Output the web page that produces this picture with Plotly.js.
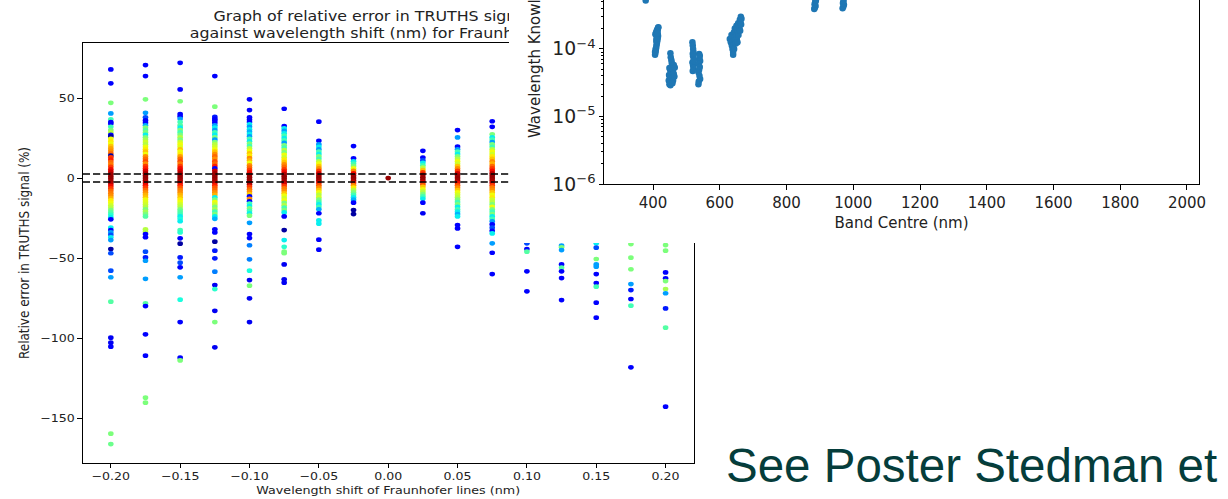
<!DOCTYPE html>
<html>
<head>
<meta charset="utf-8">
<script src="https://cdn.plot.ly/plotly-3.0.1.min.js"></script>
<style>
  html, body { margin: 0; padding: 0; background: #ffffff; overflow: hidden; width: 1228px; height: 499px; }
  /* the left figure in the reference is horizontally stretched by ~1.2 */
  #left { position: absolute; left: 0; top: 0; width: 1024px; height: 499px; transform: scaleX(1.2); transform-origin: 0 0; z-index: 0; }
  #caption { position: absolute; left: 0; top: 0; width: 1228px; height: 499px; z-index: 1; pointer-events: none; }
  #right { position: absolute; left: 509px; top: 0; width: 719px; height: 243px; z-index: 2; }
</style>
</head>
<body>
<div id="left"></div>
<div id="caption"></div>
<div id="right"></div>
<script>
// ---------- Left chart data: relative error (%) per wavelength shift, [value, colour 0..1 on jet] ----------
const shiftValues = [-0.2, -0.175, -0.15, -0.125, -0.1, -0.075, -0.05, -0.025, 0, 0.025, 0.05, 0.075, 0.1, 0.125, 0.15, 0.175, 0.2];

const err_m0200 = [[67.9,.12],[59.2,.12],[47,.5],[40.4,.28],[36.7,.43],[35,.12],
  [34,.12],[32,.43],[30,.5],[28.5,.57],[27,.12],[26,.03],[24.5,.64],[23,.66],[21.5,.64],[20,.7],[18.5,.74],[17,.76],[15.5,.8],[14,.03],[13,.85],[11.5,.88],[10,.8],[8.5,.78],[7,.85],[5.5,.9],[4,.93],[2.5,.97],[1,.98],[-0.5,.98],[-2,.97],[-3.5,.95],[-5,.9],[-6.5,.85],[-8,.8],[-9.5,.78],[-11,.76],[-12.5,.72],[-14,.66],[-15.5,.64],[-17,.6],[-18.5,.57],[-20,.5],[-21.5,.45],[-23,.4],[-24.5,.36],[-25.8,.12],[-31,.36],[-32.5,.12],[-34,.28],[-35.5,.2],[-37,.36],[-38.8,.28],
  [-44.4,.03],[-47,.2],[-57.9,.2],[-62,.28],[-77.3,.45],[-99.8,.1],[-102.9,.1],[-105.4,.12],[-159.8,.5],[-166.3,.48]];
const err_m0175 = [[70.6,.12],[63.75,.12],[49.2,.5],[40.8,.28],[38,.2],[36,.12],[34.5,.12],[33,.3],[31.5,.5],[30,.45],[28.5,.5],[27,.36],[25.5,.5],[24,.55],[22.5,.6],[21,.57],[19.5,.64],[18,.66],[16.5,.7],[15,.64],[13.5,.76],[12,.8],[10.5,.83],[9,.76],[7.5,.85],[6,.88],[4.5,.92],[3,.96],[1.5,.98],[0,.98],[-1.5,.97],[-3,.95],[-4.5,.9],[-6,.85],[-7.5,.8],[-9,.76],[-10.5,.72],[-12,.7],[-13.5,.64],[-15,.62],[-16.5,.6],[-18,.57],[-19.5,.5],[-21,.55],[-22.5,.5],[-24,.45],[-32,.57],[-33.5,.57],[-35,.12],[-37,.12],
  [-46,.2],[-49.6,.15],[-51.7,.28],[-63,.28],[-78.3,.45],[-80,.12],[-97.7,.12],[-111,.12],[-137.3,.5],[-140.4,.5]];
const err_m0150 = [[72,.12],[55.4,.12],[48,.5],[40,.12],[38.5,.12],[37,.28],[35,.43],[33,.45],[31.5,.36],[30,.5],[28.5,.43],[27,.5],[25.5,.57],[24,.5],[22.5,.6],[21,.64],[19.5,.62],[18,.7],[16.5,.64],[15,.66],[13.5,.74],[12,.8],[10.5,.83],[9,.78],[7.5,.85],[6,.9],[4.5,.92],[3,.96],[1.5,.98],[0,.98],[-1.5,.97],[-3,.93],[-4.5,.88],[-6,.82],[-7.5,.78],[-9,.76],[-10.5,.72],[-12,.7],[-13.5,.66],[-15,.64],[-16.5,.6],[-18,.57],[-19.5,.5],[-21,.45],[-22.5,.43],[-24,.36],[-25.5,.38],[-27,.36],[-32.5,.43],[-34,.4],[-37.7,.12],[-41,.03],
  [-49.6,.15],[-52.9,.2],[-55.8,.12],[-62,.28],[-76,.38],[-90,.12],[-112.3,.12],[-114,.5]];
const err_m0125 = [[63.75,.12],[44.6,.5],[38.3,.15],[37,.12],[36,.12],[34.5,.12],[33,.28],[31.5,.36],[30,.28],[28.5,.43],[27,.36],[25.5,.5],[24,.28],[22.5,.5],[21,.57],[19.5,.6],[18,.64],[16.5,.7],[15,.76],[13.5,.8],[12,.76],[10.5,.83],[9,.8],[7.5,.88],[6,.12],[4.5,.94],[3,.97],[1.5,.98],[0,.98],[-1.5,.97],[-3,.95],[-4.5,.88],[-6,.82],[-7.5,.8],[-9,.76],[-10.5,.72],[-12,.36],[-13.5,.5],[-15,.64],[-16.5,.6],[-18,.5],[-19.5,.55],[-21,.43],[-22.5,.5],[-24,.36],[-25.5,.3],[-32,.12],[-34,.12],[-39.8,.03],
  [-45.4,.15],[-50.2,.15],[-58.5,.25],[-66.9,.1],[-69.4,.4],[-83,.1],[-90,.5],[-105.8,.1]];
const err_m0100 = [[49.2,.12],[42.5,.12],[38,.12],[36.5,.12],[35,.12],[33.5,.36],[32,.28],[30.5,.36],[29,.3],[27.5,.36],[26,.28],[24.5,.43],[23,.36],[21.5,.5],[20,.43],[18.5,.57],[17,.64],[15.5,.7],[14,.66],[12.5,.76],[11,.72],[9.5,.64],[8,.76],[6.5,.8],[5,.85],[3.5,.9],[2,.96],[0.5,.98],[-1,.98],[-2.5,.97],[-4,.95],[-5.5,.85],[-7,.8],[-8.5,.76],[-10,.7],[-11.5,.12],[-13,.76],[-14.5,.12],[-16,.43],[-17.5,.36],[-19,.5],[-20.5,.43],[-22,.36],[-23.5,.5],[-28,.28],[-35,.12],[-37.5,.12],[-42,.25],
  [-50.8,.25],[-57.9,.38],[-63.75,.1],[-67.3,.5],[-75.2,.1],[-90,.1]];
const err_m0075 = [[43.3,.12],[32.5,.12],[31,.36],[29.5,.28],[28,.36],[26.5,.43],[25,.36],[23.5,.43],[22,.28],[20.5,.5],[19,.43],[17.5,.57],[16,.5],[14.5,.64],[13,.6],[11.5,.66],[10,.7],[8.5,.76],[7,.8],[5.5,.85],[4,.9],[2.5,.95],[1,.98],[-0.5,.98],[-2,.97],[-3.5,.93],[-5,.85],[-6.5,.78],[-8,.76],[-9.5,.7],[-11,.64],[-12.5,.6],[-14,.64],[-15.5,.5],[-17,.57],[-18.5,.43],[-20,.5],[-21.5,.36],[-24,.12],[-32.5,.03],[-38.75,.36],[-43,.4],[-46,.5],[-47,.5],[-54,.1],[-63.3,.1],[-65.4,.1]];
const err_m0050 = [[35.2,.12],[23.3,.12],[21,.28],[19.5,.36],[18,.28],[16.5,.43],[15,.36],[13.5,.5],[12,.43],[10.5,.57],[9,.64],[7.5,.7],[6,.76],[4.5,.85],[3,.93],[1.5,.97],[0,.98],[-1.5,.97],[-3,.9],[-4.5,.82],[-6,.76],[-7.5,.7],[-9,.64],[-10.5,.57],[-12,.6],[-13.5,.5],[-15,.43],[-16.5,.36],[-18,.43],[-19.5,.3],[-22,.12],[-26.5,.36],[-28.5,.36],[-38.5,.12],[-44.8,.12]];
const err_m0025 = [[20,.12],[12.3,.12],[10.5,.36],[9,.43],[7.5,.5],[6,.64],[4.5,.76],[3,.9],[1.5,.97],[0,.98],[-1.5,.97],[-3,.88],[-4.5,.76],[-6,.66],[-7.5,.57],[-9,.5],[-10.5,.43],[-12,.36],[-13.5,.3],[-15.4,.12],[-20,.03],[-22.5,.03]];
const err_0000 = [[0,.98]];
const err_p0025 = [[17,.12],[12.8,.12],[11,.2],[9.5,.36],[8,.43],[6.5,.57],[5,.7],[3.5,.85],[2,.95],[0.5,.98],[-1,.98],[-2.5,.93],[-4,.82],[-5.5,.7],[-7,.64],[-8.5,.57],[-10,.5],[-11.5,.43],[-13,.36],[-15.4,.12],[-22,.1]];
const err_p0050 = [[30,.12],[25.4,.28],[19.6,.12],[18,.28],[16.5,.43],[15,.36],[13.5,.5],[12,.57],[10.5,.64],[9,.6],[7.5,.7],[6,.76],[4.5,.85],[3,.93],[1.5,.97],[0,.98],[-1.5,.97],[-3,.9],[-4.5,.82],[-6,.76],[-7.5,.7],[-9,.64],[-10.5,.6],[-12,.57],[-13.5,.5],[-15,.43],[-16.5,.5],[-18,.36],[-19.5,.43],[-21,.36],[-22.5,.3],[-24,.36],[-29.4,.12],[-31.5,.12],[-43,.12]];
const err_p0075 = [[35.5,.12],[32,.12],[27.3,.5],[25.5,.36],[24,.43],[22.5,.28],[21,.5],[19.5,.43],[18,.57],[16.5,.64],[15,.6],[13.5,.66],[12,.7],[10.5,.76],[9,.72],[7.5,.8],[6,.85],[4.5,.9],[3,.95],[1.5,.98],[0,.98],[-1.5,.97],[-3,.93],[-4.5,.85],[-6,.78],[-7.5,.76],[-9,.7],[-10.5,.64],[-12,.66],[-13.5,.6],[-15,.57],[-16.5,.5],[-18,.64],[-19.5,.5],[-21,.43],[-22.5,.5],[-24,.36],[-25.5,.43],[-27,.28],[-29,.12],[-31,.2],[-33,.12],[-34.6,.36],[-40.8,.28],[-46.7,.12],[-60,.12]];
const err_p0100 = [[-40.8,.2],[-44.4,.12],[-46,.45],[-58.3,.12],[-70.8,.12]];
const err_p0125 = [[-42.3,.28],[-43.3,.5],[-45,.28],[-54,.12],[-56,.45],[-58.3,.12],[-62.5,.12],[-76.25,.12]];
const err_p0150 = [[-40.8,.36],[-43.5,.2],[-50.6,.5],[-54,.28],[-55.4,.28],[-60,.12],[-65.6,.12],[-67.9,.43],[-77.9,.12],[-87.3,.12]];
const err_p0175 = [[-41.25,.5],[-49.8,.5],[-57,.5],[-66.25,.28],[-70,.15],[-75.6,.12],[-79.8,.43],[-118.3,.12]];
const err_p0200 = [[-41.9,.5],[-45.4,.5],[-59,.12],[-62.7,.12],[-64.4,.5],[-69.4,.55],[-72,.28],[-81.5,.15],[-93.5,.45],[-142.9,.12]];

const thresholdLines = [2.5, -2.5];

// ---------- Right chart data ----------
const bandCentre = [378, 380,
  406, 407, 408, 409, 410, 411, 412, 413, 414, 415, 407, 409, 411, 413, 415, 408, 410, 412, 414, 416, 406, 410, 414,
  452, 453, 455, 456, 458, 449, 451, 454, 457, 460, 462, 448, 450, 453, 456, 459, 462, 465, 447, 450, 455, 460, 464, 449, 452, 458,
  518, 519, 520, 521, 519, 520, 522, 518, 520, 521, 519, 522,
  538, 540, 539, 541, 537, 540, 538, 536, 539, 541, 537, 536,
  630, 633, 636, 638, 640, 635, 637, 639, 641, 643, 640, 642, 644, 646, 648, 645, 647, 649, 651, 653, 650, 652, 654, 656, 655, 657, 659, 661, 660, 662, 664, 663, 665,
  883, 885, 887, 884, 886, 888, 885,
  968, 970, 972, 969, 971, 970];
const wavelengthKnowledge = [5.2e-4, 6.5e-4,
  8.2e-5, 8.8e-5, 9.5e-5, 1.02e-4, 1.1e-4, 1.18e-4, 1.26e-4, 1.35e-4, 1.45e-4, 1.55e-4, 1.65e-4, 1.75e-4, 1.85e-4, 1.95e-4, 2.05e-4, 1.0e-4, 1.3e-4, 1.6e-4, 1.9e-4, 2.1e-4, 9.0e-5, 1.4e-4, 1.7e-4,
  8.6e-5, 7.5e-5, 6.8e-5, 6.2e-5, 5.6e-5, 5.2e-5, 4.9e-5, 4.6e-5, 4.4e-5, 5.0e-5, 5.8e-5, 4.1e-5, 3.9e-5, 3.7e-5, 3.6e-5, 3.8e-5, 4.3e-5, 5.3e-5, 3.4e-5, 3.3e-5, 3.2e-5, 3.4e-5, 3.9e-5, 3.0e-5, 2.9e-5, 3.1e-5,
  1.25e-4, 1.12e-4, 1.0e-4, 9.0e-5, 8.5e-5, 7.8e-5, 7.0e-5, 6.3e-5, 5.7e-5, 5.2e-5, 4.7e-5, 6.6e-5,
  8.4e-5, 7.9e-5, 7.3e-5, 6.6e-5, 6.0e-5, 5.4e-5, 4.9e-5, 4.5e-5, 4.0e-5, 3.6e-5, 3.3e-5, 3.0e-5,
  1.4e-4, 1.25e-4, 1.12e-4, 1.0e-4, 9.0e-5, 1.6e-4, 1.45e-4, 1.3e-4, 1.15e-4, 1.0e-4, 8.2e-5, 1.75e-4, 1.55e-4, 1.35e-4, 1.2e-4, 2.0e-4, 1.8e-4, 1.6e-4, 1.4e-4, 1.25e-4, 2.2e-4, 2.0e-4, 1.8e-4, 1.6e-4, 2.4e-4, 2.2e-4, 2.0e-4, 1.85e-4, 2.7e-4, 2.5e-4, 2.3e-4, 3.0e-4, 2.8e-4,
  3.9e-4, 4.1e-4, 4.3e-4, 4.6e-4, 4.9e-4, 5.2e-4, 5.6e-4,
  4.0e-4, 4.2e-4, 4.5e-4, 4.8e-4, 5.1e-4, 5.6e-4];

// ---------- styling ----------
const jet = [[0,'rgb(0,0,127)'],[0.11,'rgb(0,0,255)'],[0.125,'rgb(0,0,255)'],[0.34,'rgb(0,219,255)'],[0.35,'rgb(0,229,247)'],
  [0.375,'rgb(21,255,226)'],[0.64,'rgb(239,255,8)'],[0.65,'rgb(247,245,0)'],[0.66,'rgb(255,236,0)'],[0.89,'rgb(255,19,0)'],
  [0.91,'rgb(232,0,0)'],[1,'rgb(127,0,0)']];
const FONT = 'DejaVu Sans, sans-serif';
const TXT = '#222222';

const columnTable = [err_m0200, err_m0175, err_m0150, err_m0125, err_m0100, err_m0075, err_m0050, err_m0025, err_0000,
  err_p0025, err_p0050, err_p0075, err_p0100, err_p0125, err_p0150, err_p0175, err_p0200];

const leftTraces = columnTable.map((pts, i) => ({
  type: 'scatter', mode: 'markers', showlegend: false, hoverinfo: 'skip',
  x: pts.map(() => shiftValues[i]),
  y: pts.map(p => p[0]),
  marker: { size: 4.7, color: pts.map(p => p[1]), colorscale: jet, cmin: 0, cmax: 1, line: { width: 0 } }
}));

const axisCommon = {
  showline: true, linecolor: '#000', linewidth: 1, mirror: true,
  ticks: 'outside', ticklen: 3.5, tickwidth: 1, tickcolor: '#000',
  showgrid: false, zeroline: false,
  tickfont: { family: FONT, size: 10.5, color: TXT }
};

// left figure is drawn at 1024 px wide and stretched by 1.2 horizontally
const leftLayout = {
  width: 1024, height: 499,
  margin: { l: 69.2, r: 445.7, t: 43, b: 36 },
  paper_bgcolor: '#fff', plot_bgcolor: '#fff',
  title: {
    text: 'Graph of relative error in TRUTHS signal (%)<br>against wavelength shift (nm) for Fraunhofer lines',
    font: { family: FONT, size: 13.2, color: TXT },
    xref: 'paper', x: 0.5, xanchor: 'center',
    yref: 'container', y: 1 - 21 / 499, yanchor: 'middle'
  },
  xaxis: Object.assign({}, axisCommon, {
    range: [-0.2202, 0.2202], tick0: 0, dtick: 0.05, tickformat: '.2f',
    title: { text: 'Wavelength shift of Fraunhofer lines (nm)', font: { family: FONT, size: 10.6, color: TXT }, standoff: 5 }
  }),
  yaxis: Object.assign({}, axisCommon, {
    range: [-178.1, 84.4], tick0: 0, dtick: 50,
    title: { text: 'Relative error in TRUTHS signal (%)', font: { family: FONT, size: 12, color: TXT }, standoff: 6 }
  }),
  shapes: thresholdLines.map(v => ({
    type: 'line', xref: 'paper', x0: 0, x1: 1, yref: 'y', y0: v, y1: v,
    line: { color: '#000', width: 1.6, dash: '6px,2.5px' }, layer: 'above'
  }))
};
Plotly.newPlot('left', leftTraces, leftLayout, { displayModeBar: false, staticPlot: true });

// ---------- slide caption ----------
Plotly.newPlot('caption', [], {
  width: 1228, height: 499, margin: { l: 0, r: 0, t: 0, b: 0 },
  paper_bgcolor: 'rgba(0,0,0,0)', plot_bgcolor: 'rgba(0,0,0,0)',
  xaxis: { visible: false }, yaxis: { visible: false },
  annotations: [{
    text: 'See Poster Stedman et', showarrow: false,
    xref: 'paper', x: 724 / 1228, xanchor: 'left',
    yref: 'paper', y: (499 - 494) / 499, yanchor: 'bottom',
    font: { family: 'Liberation Sans, Arial, sans-serif', size: 47.5, color: '#053d3b' }
  }]
}, { displayModeBar: false, staticPlot: true });

// ---------- right chart ----------
const rightTrace = {
  type: 'scatter', mode: 'markers', showlegend: false, hoverinfo: 'skip',
  x: bandCentre, y: wavelengthKnowledge,
  marker: { size: 6.5, color: '#1f77b4', line: { width: 0 } }
};
const rAxis = {
  showline: true, linecolor: '#000', linewidth: 1,
  ticks: 'outside', ticklen: 4.5, tickwidth: 1, tickcolor: '#000',
  showgrid: false, zeroline: false,
  tickfont: { family: FONT, size: 15, color: TXT }
};
const rightLayout = {
  width: 719, height: 243,
  margin: { l: 95, r: 29, t: 0, b: 59 },
  paper_bgcolor: '#fff', plot_bgcolor: '#fff',
  xaxis: Object.assign({}, rAxis, {
    range: [253, 2036], tick0: 0, dtick: 200,
    title: { text: 'Band Centre (nm)', font: { family: FONT, size: 15, color: TXT }, standoff: 6 }
  }),
  yaxis: Object.assign({}, rAxis, {
    type: 'log', range: [-6, -3.276], dtick: 1, exponentformat: 'power', mirror: true,
    minor: { ticks: 'outside', ticklen: 2.5, tickcolor: '#000', dtick: 'D1', showgrid: false }
  }),
  annotations: [{
    text: 'Wavelength Knowledge Requirement (nm)', showarrow: false, textangle: -90,
    xref: 'paper', x: (26 - 95) / 595, xanchor: 'center',
    yref: 'paper', y: (184 - 140) / 184, yanchor: 'bottom',
    font: { family: FONT, size: 15, color: TXT }
  }]
};
Plotly.newPlot('right', [rightTrace], rightLayout, { displayModeBar: false, staticPlot: true });
</script>
</body>
</html>
